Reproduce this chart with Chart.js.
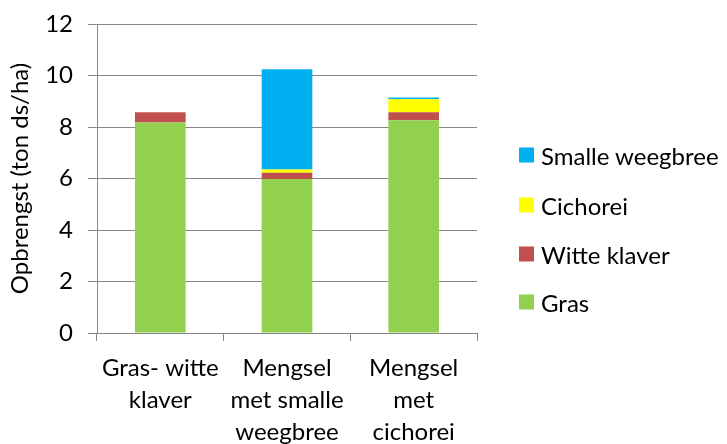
<!DOCTYPE html>
<html>
<head>
<meta charset="utf-8">
<script src="https://cdn.jsdelivr.net/npm/chart.js@4.4.0/dist/chart.umd.min.js"></script>
<style>
  html, body { margin: 0; padding: 0; background: #fff; }
  #wrap { position: relative; width: 727px; height: 444px; }
  #legend { position: absolute; left: 519px; top: 0; font-family: Lato, sans-serif; font-size: 24px; color: #000; }
  #legend .item { position: absolute; left: 0; white-space: nowrap; display: flex; align-items: center; transform: translateY(-50%); }
  #legend .sw { width: 15px; height: 15px; margin-right: 7px; }
</style>
</head>
<body>
<div id="wrap">
  <canvas id="chart" width="727" height="444"></canvas>
  <div id="legend"></div>
</div>
<script>
// categories (x axis, wrapped as in the original)
const categories = [
  ['Gras- witte', 'klaver'],
  ['Mengsel', 'met smalle', 'weegbree'],
  ['Mengsel', 'met', 'cichorei'],
];

// yield per component, ton ds/ha
const gras = [8.17, 5.98, 8.26];
const witteKlaver = [0.40, 0.24, 0.31];
const cichorei = [0.00, 0.13, 0.51];
const smalleWeegbree = [0.00, 3.89, 0.07];

const yTicks = [0, 2, 4, 6, 8, 10, 12];

const FONT = 'Lato, sans-serif';
const GRID = '#878787';

const datasets = [
  { label: 'Gras', data: gras, backgroundColor: '#92d050' },
  { label: 'Witte klaver', data: witteKlaver, backgroundColor: '#c0504d' },
  { label: 'Cichorei', data: cichorei, backgroundColor: '#ffff00' },
  { label: 'Smalle weegbree', data: smalleWeegbree, backgroundColor: '#00b0f0' },
].map((d) => Object.assign(d, { categoryPercentage: 0.4, barPercentage: 1.0, borderWidth: 0 }));

new Chart(document.getElementById('chart'), {
  type: 'bar',
  data: { labels: categories, datasets },
  options: {
    responsive: false,
    animation: false,
    layout: { padding: { left: 0, right: 250, top: 24, bottom: 0 } },
    plugins: { legend: { display: false }, tooltip: { enabled: false } },
    scales: {
      x: {
        stacked: true,
        offset: true,
        grid: { display: true, drawOnChartArea: false, offset: true, color: GRID, tickLength: 8, tickColor: GRID },
        border: { color: GRID, width: 1 },
        ticks: { color: '#000', font: { family: FONT, size: 24, lineHeight: '32px' }, padding: 11, maxRotation: 0 },
        afterFit: (s) => { s.height = 111; },
      },
      y: {
        stacked: true,
        min: 0,
        max: 12,
        afterBuildTicks: (s) => { s.ticks = yTicks.map((v) => ({ value: v })); },
        grid: { color: GRID, tickLength: 9, tickColor: GRID },
        border: { color: GRID, width: 1 },
        ticks: { color: '#000', font: { family: FONT, size: 24 }, padding: 15 },
        title: { display: true, text: 'Opbrengst (ton ds/ha)', color: '#000', font: { family: FONT, size: 24 }, padding: { top: 6, bottom: 0 } },
        // fixed width; drop the label overhang so the top edge sits where the original has it
        afterFit: (s) => { s.width = 97; s.paddingTop = 0; s.paddingBottom = 0; },
      },
    },
  },
});

// legend, top series first like the original
const legend = document.getElementById('legend');
const legendY = [155, 205, 254, 302];
datasets.slice().reverse().forEach((d, i) => {
  const it = document.createElement('div');
  it.className = 'item';
  it.style.top = legendY[i] + 'px';
  it.innerHTML = '<span class="sw" style="background:' + d.backgroundColor + '"></span><span>' + d.label + '</span>';
  legend.appendChild(it);
});
</script>
</body>
</html>
